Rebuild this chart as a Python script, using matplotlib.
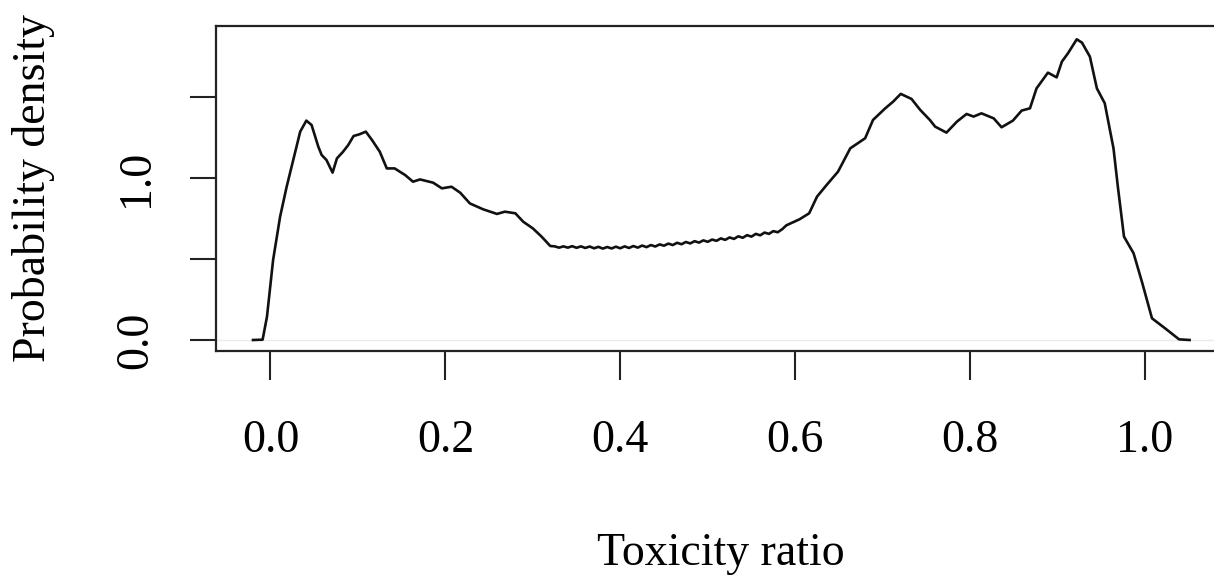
import matplotlib
matplotlib.use('Agg')
import matplotlib.pyplot as plt

plt.rcParams['font.family'] = ['Liberation Serif', 'DejaVu Serif']

# density curve
tox_x = [-0.020, -0.009, -0.004, 0.003, 0.011, 0.0185, 0.026, 0.034, 0.041, 0.047,
         0.0547, 0.0585, 0.064, 0.071, 0.076, 0.083, 0.089, 0.095, 0.102, 0.109,
         0.116, 0.125, 0.133, 0.142, 0.154, 0.163, 0.171, 0.186, 0.196, 0.207,
         0.217, 0.228, 0.243, 0.259, 0.268, 0.280, 0.289, 0.300, 0.310, 0.320,
         0.325, 0.330, 0.335, 0.340, 0.345, 0.350, 0.355, 0.360, 0.365, 0.370,
         0.375, 0.380, 0.385, 0.390, 0.395, 0.400, 0.405, 0.410, 0.415, 0.420,
         0.425, 0.430, 0.435, 0.440, 0.445, 0.450, 0.455, 0.460, 0.465, 0.470,
         0.475, 0.480, 0.485, 0.490, 0.495, 0.500, 0.505, 0.510, 0.515, 0.520,
         0.525, 0.530, 0.535, 0.540, 0.545, 0.550, 0.555, 0.560, 0.565, 0.570,
         0.575, 0.580, 0.585, 0.590, 0.599, 0.605, 0.616, 0.625, 0.636, 0.649,
         0.663, 0.680, 0.689, 0.703, 0.712, 0.7207, 0.733, 0.743, 0.754, 0.760,
         0.773, 0.785, 0.796, 0.804, 0.813, 0.827, 0.836, 0.849, 0.859, 0.8685,
         0.876, 0.889, 0.899, 0.905, 0.912, 0.922, 0.928, 0.937, 0.945, 0.954,
         0.964, 0.969, 0.976, 0.987, 0.997, 1.008, 1.023, 1.039, 1.051]
density = [0.000, 0.002, 0.144, 0.494, 0.761, 0.946, 1.111, 1.286, 1.354, 1.327,
           1.193, 1.142, 1.111, 1.033, 1.121, 1.162, 1.204, 1.259, 1.270, 1.286,
           1.235, 1.162, 1.059, 1.059, 1.018, 0.977, 0.991, 0.971, 0.936, 0.946,
           0.909, 0.843, 0.807, 0.778, 0.792, 0.782, 0.730, 0.689, 0.638, 0.580,
           0.578, 0.570, 0.578, 0.570, 0.579, 0.569, 0.578, 0.568, 0.577, 0.566,
           0.575, 0.564, 0.574, 0.565, 0.576, 0.566, 0.578, 0.568, 0.580, 0.570,
           0.583, 0.573, 0.586, 0.577, 0.590, 0.582, 0.595, 0.586, 0.600, 0.591,
           0.605, 0.596, 0.610, 0.601, 0.615, 0.606, 0.620, 0.612, 0.627, 0.618,
           0.633, 0.624, 0.640, 0.631, 0.647, 0.638, 0.655, 0.646, 0.663, 0.655,
           0.672, 0.665, 0.683, 0.708, 0.730, 0.745, 0.782, 0.885, 0.957, 1.039,
           1.183, 1.245, 1.358, 1.430, 1.471, 1.519, 1.488, 1.420, 1.358, 1.317,
           1.280, 1.348, 1.395, 1.379, 1.399, 1.368, 1.313, 1.354, 1.416, 1.430,
           1.553, 1.650, 1.621, 1.718, 1.770, 1.856, 1.835, 1.749, 1.553, 1.461,
           1.183, 0.946, 0.638, 0.535, 0.350, 0.134, 0.072, 0.004, 0.000]

x_ticks = [0.0, 0.2, 0.4, 0.6, 0.8, 1.0]
x_labels = ['0.0', '0.2', '0.4', '0.6', '0.8', '1.0']
y_ticks = [0.0, 0.5, 1.0, 1.5]
y_labels = ['0.0', '', '1.0', '']

W, H = 1214, 575
fig = plt.figure(figsize=(W / 100, H / 100), dpi=100)
ax = fig.add_axes([216 / W, 1 - 351 / H, (1227 - 216) / W, (351 - 26) / H])

ax.axhline(0, color='#ebebeb', lw=1.0, zorder=1)
ax.plot(tox_x, density, color='#111111', lw=1.9, zorder=2)

ax.set_xlim(-0.0623, 1.0938)
ax.set_ylim(-0.0679, 1.938)
for s in ax.spines.values():
    s.set_linewidth(1.6)
    s.set_color('#222222')

ax.set_xticks(x_ticks, x_labels)
ax.set_yticks(y_ticks, y_labels, rotation=90, va='center')
ax.tick_params(axis='x', length=21, width=1.5, pad=28, labelsize=33, color='#222222')
ax.tick_params(axis='y', length=19, width=1.5, pad=23, labelsize=33, color='#222222')

fig.text(721 / W, 10 / H, 'Toxicity ratio', fontsize=33, ha='center', va='baseline')
fig.text(45 / W, 1 - 188 / H, 'Probability density', fontsize=33, rotation=90,
         rotation_mode='anchor', ha='center', va='baseline')

fig.savefig('out.png', dpi=100)
